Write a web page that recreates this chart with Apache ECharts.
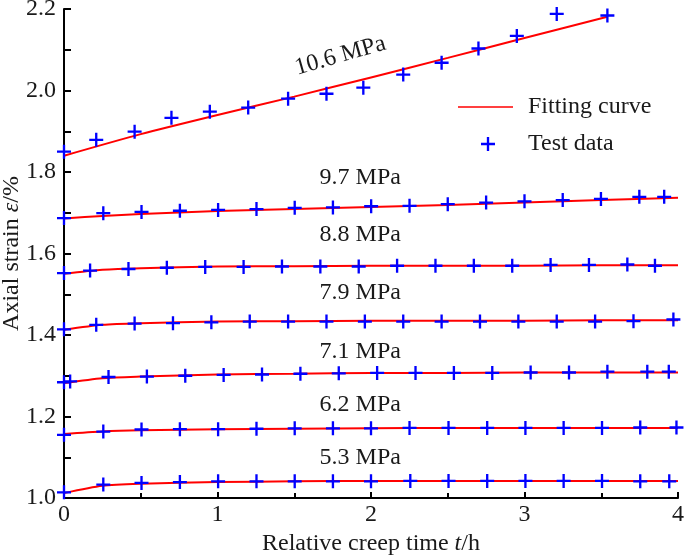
<!DOCTYPE html>
<html>
<head>
<meta charset="utf-8">
<script src="https://cdn.jsdelivr.net/npm/echarts@6/dist/echarts.min.js"></script>
<style>html,body{margin:0;padding:0;background:#fff}#c{width:685px;height:556px}</style>
</head>
<body>
<div id="c"></div>
<script>
// ---- data ----
const stresses = ['10.6 MPa','9.7 MPa','8.8 MPa','7.9 MPa','7.1 MPa','6.2 MPa','5.3 MPa'];

const t106 = [0, 0.21, 0.46, 0.70, 0.95, 1.20, 1.46, 1.71, 1.95, 2.21, 2.46, 2.70, 2.95, 3.21, 3.54];
const e106 = [1.850, 1.879, 1.899, 1.933, 1.948, 1.958, 1.980, 1.992, 2.007, 2.039, 2.068, 2.103, 2.134, 2.188, 2.184];
const t97 = [0, 0.256, 0.505, 0.755, 1.004, 1.254, 1.503, 1.752, 2.001, 2.251, 2.50, 2.75, 3.0, 3.249, 3.498, 3.748, 3.91];
const e97 = [1.687, 1.699, 1.702, 1.705, 1.707, 1.709, 1.712, 1.713, 1.716, 1.717, 1.721, 1.725, 1.728, 1.731, 1.734, 1.739, 1.739];
const t88 = [0, 0.17, 0.42, 0.67, 0.92, 1.17, 1.42, 1.67, 1.92, 2.17, 2.42, 2.67, 2.92, 3.17, 3.42, 3.67, 3.85];
const e88 = [1.552, 1.558, 1.562, 1.565, 1.567, 1.567, 1.568, 1.568, 1.568, 1.570, 1.570, 1.570, 1.570, 1.572, 1.572, 1.573, 1.570];
const t79 = [0, 0.21, 0.46, 0.71, 0.96, 1.21, 1.46, 1.71, 1.96, 2.21, 2.46, 2.71, 2.96, 3.21, 3.46, 3.71, 3.97];
const e79 = [1.414, 1.425, 1.428, 1.429, 1.431, 1.433, 1.433, 1.433, 1.433, 1.433, 1.433, 1.433, 1.433, 1.433, 1.433, 1.434, 1.438];
const t71 = [0, 0.04, 0.29, 0.54, 0.79, 1.04, 1.29, 1.54, 1.79, 2.04, 2.29, 2.54, 2.79, 3.04, 3.29, 3.54, 3.80, 3.94];
const e71 = [1.284, 1.286, 1.297, 1.298, 1.300, 1.302, 1.303, 1.305, 1.306, 1.307, 1.307, 1.307, 1.307, 1.308, 1.308, 1.310, 1.310, 1.310];
const t62 = [0, 0.256, 0.505, 0.755, 1.004, 1.254, 1.503, 1.752, 2.0, 2.251, 2.505, 2.757, 3.006, 3.255, 3.505, 3.754, 3.99];
const e62 = [1.155, 1.163, 1.168, 1.169, 1.169, 1.170, 1.171, 1.171, 1.171, 1.172, 1.172, 1.172, 1.172, 1.172, 1.172, 1.173, 1.173];
const t53 = [0, 0.256, 0.505, 0.755, 1.004, 1.254, 1.503, 1.752, 2.0, 2.256, 2.505, 2.757, 3.006, 3.255, 3.505, 3.754, 3.943];
const e53 = [1.014, 1.033, 1.037, 1.039, 1.041, 1.041, 1.041, 1.041, 1.041, 1.042, 1.042, 1.042, 1.042, 1.042, 1.042, 1.041, 1.041];

// fitting curves
const tFit106 = [0, 0.5, 1, 1.5, 2, 2.5, 3, 3.54];
const f106 = [1.840, 1.893, 1.940, 1.985, 2.032, 2.080, 2.129, 2.181];
const tFit = [0, 0.25, 0.5, 1, 1.5, 2, 2.5, 3, 3.5, 4];
const f97 = [1.686, 1.692, 1.697, 1.704, 1.709, 1.714, 1.719, 1.725, 1.731, 1.737];
const f88 = [1.550, 1.560, 1.564, 1.568, 1.569, 1.570, 1.570, 1.570, 1.571, 1.571];
const f79 = [1.413, 1.425, 1.429, 1.433, 1.434, 1.435, 1.435, 1.435, 1.436, 1.436];
const f71 = [1.282, 1.294, 1.298, 1.303, 1.305, 1.307, 1.307, 1.308, 1.308, 1.308];
const f62 = [1.157, 1.163, 1.166, 1.169, 1.170, 1.171, 1.172, 1.172, 1.172, 1.172];
const f53 = [1.012, 1.030, 1.035, 1.039, 1.041, 1.042, 1.042, 1.042, 1.042, 1.042];

// where each stress label sits (data coords)
const labelT = [1.80, 1.93, 1.93, 1.93, 1.93, 1.93, 1.93];
const labelE = [2.085, 1.786, 1.646, 1.503, 1.360, 1.229, 1.098];
const xTicks = [0, 1, 2, 3, 4];
const yTicks = ['1.0','1.2','1.4','1.6','1.8','2.0','2.2'];

// ---- build ----
const FONT = "'Liberation Serif','Times New Roman',serif";
const FS = 24;
const TXT = '#1a1a1a';
const tests = [[t106,e106],[t97,e97],[t88,e88],[t79,e79],[t71,e71],[t62,e62],[t53,e53]];
const fits = [[tFit106,f106],[tFit,f97],[tFit,f88],[tFit,f79],[tFit,f71],[tFit,f62],[tFit,f53]];
const zip = (a,b) => a.map((v,i)=>[v,b[i]]);
const CROSS = 'path://M5,0 H7 V5 H12 V7 H7 V12 H5 V7 H0 V5 H5 Z';

const series = [];
fits.forEach((f,i)=>{
  series.push({
    name:'Fitting curve', type:'line', data: zip(f[0],f[1]), smooth:0.25,
    showSymbol:false, symbol:'none', lineStyle:{color:'#ff0000', width:2}, itemStyle:{color:'#ff0000'},
    z:2, silent:true, animation:false,
    markPoint:{
      symbol:'circle', symbolSize:0, silent:true, animation:false,
      data:[{coord:[labelT[i], labelE[i]], value: stresses[i]}],
      label:{show:true, position:'inside', formatter: stresses[i], color:TXT, fontFamily:FONT, fontSize:FS,
             rotate: i===0 ? 16 : 0}
    }
  });
});
tests.forEach((d)=>{
  series.push({
    name:'Test data', type:'scatter', data: zip(d[0],d[1]), symbol:CROSS, symbolSize:14,
    itemStyle:{color:'#0000ff', opacity:1}, z:3, silent:true, animation:false
  });
});

const chart = echarts.init(document.getElementById('c'), null, {renderer:'canvas'});
chart.setOption({
  backgroundColor:'#fff',
  animation:false,
  grid:{left:64, right:7, top:9, bottom:58, containLabel:false, outerBoundsMode:'none'},
  legend:[
    {data:[{name:'Fitting curve', icon:'rect'}], left:453, top:90, itemWidth:55, itemHeight:1.5,
     textStyle:{fontFamily:FONT, fontSize:FS, color:TXT, padding:[0,0,0,10]}, selectedMode:false},
    {data:[{name:'Test data', icon:CROSS}], left:476, top:127, itemWidth:14, itemHeight:14,
     itemStyle:{color:'#0000ff'},
     textStyle:{fontFamily:FONT, fontSize:FS, color:TXT, padding:[0,0,0,28]}, selectedMode:false}
  ],
  xAxis:{
    type:'value', min:0, max:4, interval:1,
    name:'Relative creep time {i|t}/h', nameLocation:'middle', nameGap:29,
    nameTextStyle:{fontFamily:FONT, fontSize:FS, color:TXT, rich:{i:{fontStyle:'italic', fontFamily:FONT, fontSize:FS, color:TXT}}},
    axisLine:{show:true, lineStyle:{color:'#000', width:2}},
    axisTick:{show:true, inside:true, length:6, lineStyle:{color:'#000', width:2}},
    minorTick:{show:true, splitNumber:2, length:5, lineStyle:{color:'#000', width:2}},
    splitLine:{show:false},
    axisLabel:{fontFamily:FONT, fontSize:FS, color:TXT, margin:5,
      formatter:(v)=> xTicks.indexOf(v)>=0 ? String(v) : ''}
  },
  yAxis:{
    type:'value', min:1.0, max:2.2, interval:0.2,
    name:'Axial strain {i|ε}/%', nameLocation:'middle', nameGap:40, nameRotate:90, nameMoveOverlap:false,
    nameTextStyle:{fontFamily:FONT, fontSize:FS, color:TXT, rich:{i:{fontStyle:'italic', fontFamily:FONT, fontSize:FS, color:TXT}}},
    axisLine:{show:true, lineStyle:{color:'#000', width:2}},
    axisTick:{show:true, inside:true, length:7, lineStyle:{color:'#000', width:2}},
    minorTick:{show:true, splitNumber:2, length:7, lineStyle:{color:'#000', width:2}},
    splitLine:{show:false},
    axisLabel:{fontFamily:FONT, fontSize:FS, color:TXT, margin:8,
      formatter:(v)=> { const s = v.toFixed(1); return yTicks.indexOf(s)>=0 ? s : ''; }}
  },
  series: series
});
</script>
</body>
</html>
